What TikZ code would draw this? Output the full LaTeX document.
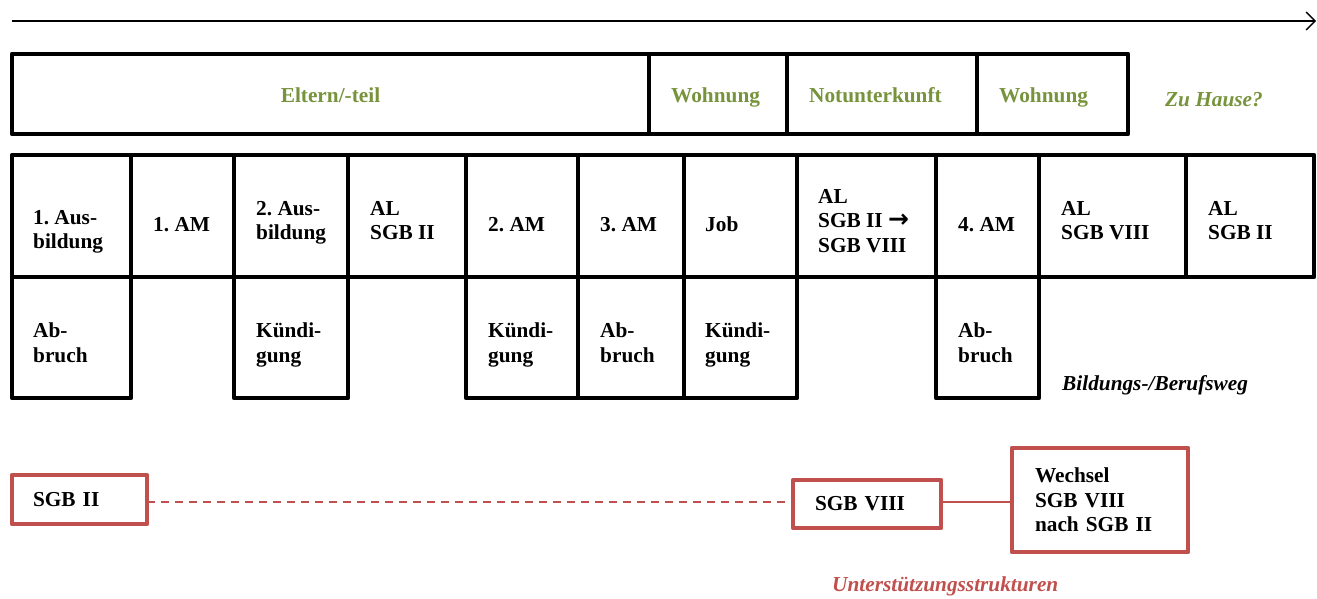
\documentclass[tikz,border=0pt]{standalone}
\usepackage{fontspec}
\setmainfont{Liberation Serif}
\newfontfamily\arrowfont{DejaVu Sans}
\usetikzlibrary{arrows.meta}
\definecolor{olivegr}{RGB}{119,147,60}
\definecolor{redac}{RGB}{192,80,77}
\newcommand{\cellfont}{\fontsize{21.3}{24.5}\selectfont\bfseries}
\frenchspacing
\begin{document}
\begin{tikzpicture}[x=1pt,y=-1pt,
  cell/.style={draw=black, line width=4.5pt, line join=round, inner sep=0pt, outer sep=0pt},
  ctext/.style={anchor=north west, align=left, inner sep=0pt, font=\cellfont, execute at begin node=\strut},
  gtext/.style={anchor=base west, inner sep=0pt, font=\cellfont, text=olivegr},
  redbox/.style={draw=redac, line width=4.5pt, line join=round, outer sep=0pt, inner ysep=0pt, align=left, font=\cellfont},
  redline/.style={draw=redac, line width=1.5pt},
  caption/.style={anchor=base west, inner sep=0pt, font=\cellfont\itshape}
]
\useasboundingbox (0,0) rectangle (1317,598);

% time arrow
\coordinate (as) at (12,21);
\coordinate (ae) at (1316,21);
\draw[line width=1.3pt, -{Straight Barb[length=9pt,width=18pt,line width=1.3pt]}] (as) -- (ae);

% living situation row
\node[cell, minimum width=637, minimum height=80] (e1) at (330.5,94) {};
\node[cell, minimum width=138, minimum height=80] (e2) at (718,94) {};
\node[cell, minimum width=190, minimum height=80] (e3) at (882,94) {};
\node[cell, minimum width=151, minimum height=80] (e4) at (1052.5,94) {};
\node[gtext, anchor=base] (te1) at (330.5,102) {Eltern/-teil};
\node[gtext] (te2) at (671,102) {Wohnung};
\node[gtext] (te3) at (809,102) {Notunterkunft};
\node[gtext] (te4) at (999,102) {Wohnung};
\node[gtext, font=\cellfont\itshape] (zh) at (1165,106) {Zu Hause?};

% education / career row
\node[cell, minimum width=119, minimum height=122] (c1) at (71.5,216) {};
\node[cell, minimum width=103, minimum height=122] (c2) at (182.5,216) {};
\node[cell, minimum width=114, minimum height=122] (c3) at (291,216) {};
\node[cell, minimum width=118, minimum height=122] (c4) at (407,216) {};
\node[cell, minimum width=112, minimum height=122] (c5) at (522,216) {};
\node[cell, minimum width=106, minimum height=122] (c6) at (631,216) {};
\node[cell, minimum width=113, minimum height=122] (c7) at (740.5,216) {};
\node[cell, minimum width=139, minimum height=122] (c8) at (866.5,216) {};
\node[cell, minimum width=103, minimum height=122] (c9) at (987.5,216) {};
\node[cell, minimum width=147, minimum height=122] (c10) at (1112.5,216) {};
\node[cell, minimum width=128, minimum height=122] (c11) at (1250,216) {};

\node[ctext] (t1) at (33,209.85) {1. Aus-\\bildung};
\node[ctext] (t2) at (153,213.85) {1. AM};
\node[ctext] (t3) at (256,200.85) {2. Aus-\\bildung};
\node[ctext] (t4) at (370,200.85) {AL\\SGB II};
\node[ctext] (t5) at (488,213.85) {2. AM};
\node[ctext] (t6) at (600,213.85) {3. AM};
\node[ctext] (t7) at (705,213.85) {Job};
\node[ctext] (t8) at (818,188.85) {AL\\SGB II {\arrowfont\bfseries\fontsize{25}{24.5}\selectfont →}\\SGB VIII};
\node[ctext] (t9) at (958,213.85) {4. AM};
\node[ctext] (t10) at (1061,200.85) {AL\\SGB VIII};
\node[ctext] (t11) at (1208,200.85) {AL\\SGB II};

% breaks
\node[cell, minimum width=119, minimum height=121] (b1) at (71.5,337.5) {};
\node[cell, minimum width=114, minimum height=121] (b3) at (291,337.5) {};
\node[cell, minimum width=112, minimum height=121] (b5) at (522,337.5) {};
\node[cell, minimum width=106, minimum height=121] (b6) at (631,337.5) {};
\node[cell, minimum width=113, minimum height=121] (b7) at (740.5,337.5) {};
\node[cell, minimum width=103, minimum height=121] (b9) at (987.5,337.5) {};
\node[ctext] (u1) at (33,322.85) {Ab-\\bruch};
\node[ctext] (u3) at (256,322.85) {Kündi-\\gung};
\node[ctext] (u5) at (488,322.85) {Kündi-\\gung};
\node[ctext] (u6) at (600,322.85) {Ab-\\bruch};
\node[ctext] (u7) at (705,322.85) {Kündi-\\gung};
\node[ctext] (u9) at (958,322.85) {Ab-\\bruch};
\node[caption] (bw) at (1062,390) {Bildungs-/Berufsweg};

% support structures
\node[redbox, minimum height=49, inner xsep=21pt, text width=93pt] (s2) at (79.5,499.5) {SGB II};
\node[redbox, minimum height=48, inner xsep=22pt, text width=104pt] (s8) at (867,504) {SGB VIII};
\node[redbox, minimum height=104, inner xsep=23pt, text width=130pt] (wx) at (1100,500) {Wechsel\\SGB VIII\\nach SGB II};
\coordinate (ly) at (0,502);
\draw[redline, dash pattern=on 8pt off 6pt] (s2.east |- ly) -- (s8.west |- ly);
\draw[redline] (s8.east |- ly) -- (wx.west |- ly);
\node[caption, text=redac] (us) at (832,591.5) {Unterstützungsstrukturen};
\end{tikzpicture}
\end{document}
